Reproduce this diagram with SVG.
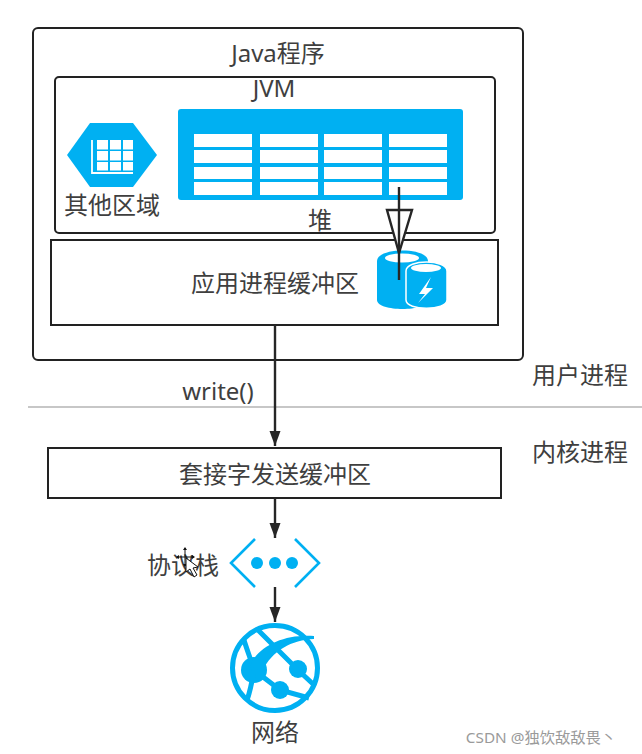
<svg xmlns="http://www.w3.org/2000/svg" width="642" height="754" viewBox="0 0 642 754">
<style>
text{font-family:"Noto Sans","Noto Sans CJK SC",sans-serif;font-size:24px;fill:#3f3f3f;text-anchor:middle}
.box{fill:#fff;stroke:#222;stroke-width:2}
.blue{fill:#00b0f2}
.cell{fill:#fff}
.line{fill:none;stroke:#262626;stroke-width:2.400}
.chev{fill:none;stroke:#00b0f2;stroke-width:2.600}
.glb{fill:none;stroke:#00b0f2;stroke-width:5}
</style>
<defs>
<marker id="ah" markerUnits="userSpaceOnUse" markerWidth="16" markerHeight="12" refX="15" refY="5.500" orient="auto"><path d="M0 0L15 5.500L0 11Z" fill="#262626"/></marker>
<g id="col"><rect class="cell" x="0" y="134" width="58" height="13"/><rect class="cell" x="0" y="150" width="58" height="13"/><rect class="cell" x="0" y="167" width="58" height="12"/><rect class="cell" x="0" y="182" width="58" height="13"/></g>
</defs>
<rect width="642" height="754" fill="#fff"/>
<line x1="28" y1="407" x2="642" y2="407" stroke="#b5b5b5" stroke-width="1.500"/>
<g id="java-program"><rect class="box" x="33" y="28" width="490" height="332" rx="5"/><text x="278" y="62">Java程序</text></g>
<g id="jvm"><rect class="box" x="55" y="77" width="440" height="156" rx="4"/><text x="274" y="97">JVM</text></g>
<g id="other-area">
<path class="blue" d="M67 155L90 123H133L157 155L133 187H90Z"/>
<path d="M92 140V173H133" fill="none" stroke="#fff" stroke-width="1.800"/>
<g class="cell"><rect x="97" y="140" width="11" height="9.500"/><rect x="110" y="140" width="11" height="9.500"/><rect x="123" y="140" width="10" height="9.500"/><rect x="97" y="151" width="11" height="9.500"/><rect x="110" y="151" width="11" height="9.500"/><rect x="123" y="151" width="10" height="9.500"/><rect x="97" y="162" width="11" height="8.500"/><rect x="110" y="162" width="11" height="8.500"/><rect x="123" y="162" width="10" height="8.500"/></g>
<text x="112" y="214">其他区域</text>
</g>
<g id="heap">
<rect class="blue" x="178" y="109" width="285" height="91" rx="3"/>
<use href="#col" x="194"/><use href="#col" x="260"/><use href="#col" x="324"/><use href="#col" x="389"/>
<text x="320" y="229">堆</text>
</g>
<g id="app-buffer">
<rect class="box" x="51" y="240" width="447" height="85"/>
<text x="275" y="292">应用进程缓冲区</text>
<path class="blue" d="M377 261C377 247 428 247 428 261V300C428 312 377 312 377 300Z"/>
<ellipse cx="402" cy="258" rx="17" ry="4.500" fill="#fff"/>
<path class="blue" stroke="#fff" stroke-width="1.500" d="M406 271C406 259 447 259 447 271V300C447 311 406 311 406 300Z"/>
<ellipse cx="426" cy="268" rx="15" ry="4" fill="#fff"/>
<path d="M431 277L419 294H425L418 303L433 288H426Z" fill="#fff"/>
</g>
<g id="socket-buffer"><rect class="box" x="48" y="448" width="453" height="50"/><text x="275" y="483">套接字发送缓冲区</text></g>
<g id="protocol-stack">
<text x="183" y="574">协议栈</text>
<path class="chev" d="M255 539L231 563L255 587M295 539L319 563L295 587"/>
<circle class="blue" cx="257" cy="563" r="6"/><circle class="blue" cx="275" cy="563" r="6"/><circle class="blue" cx="292" cy="563" r="6"/>
<path d="M185 548V566M177 557H194" stroke="#111" stroke-width="1" fill="none"/>
<path d="M185 547l-2 3h4zM185 567l-2-3h4zM176 557l3-2v4zM195 557l-3-2v4z" fill="#111"/>
<path d="M186 558L186 572L190 569L194 577L197 575L193 568L198 567Z" fill="#fff" stroke="#111" stroke-width="1"/>
</g>
<g id="network">
<circle class="glb" cx="275" cy="668" r="42.500"/>
<circle class="blue" cx="254" cy="670" r="13"/><circle class="blue" cx="298" cy="669" r="9"/><circle class="blue" cx="280" cy="690" r="9"/>
<path class="glb" d="M258 630L298 670L313 684M244 640C247 650 251 660 254 670C252 682 250 692 247 700M254 670L280 690L309 698"/>
<path class="blue" d="M250 665C260 645 285 634 314 636L314 639C292 640 272 650 262 672Z"/>
<text x="275" y="741">网络</text>
</g>
<text x="218" y="400">write()</text>
<text x="580" y="384">用户进程</text>
<text x="580" y="461">内核进程</text>
<text x="541" y="743" style="font-size:15.300px;fill:#9a9a9a">CSDN @独饮敌敌畏丶</text>
<g id="connectors">
<path class="line" d="M387 210H412L399 253Z" fill="#fff" style="fill:#fff"/>
<line class="line" x1="399" y1="187" x2="399" y2="280"/>
<line class="line" x1="275" y1="325" x2="275" y2="446" marker-end="url(#ah)"/>
<line class="line" x1="275" y1="498" x2="275" y2="538" marker-end="url(#ah)"/>
<line class="line" x1="275" y1="587" x2="275" y2="622" marker-end="url(#ah)"/>
</g>
</svg>
